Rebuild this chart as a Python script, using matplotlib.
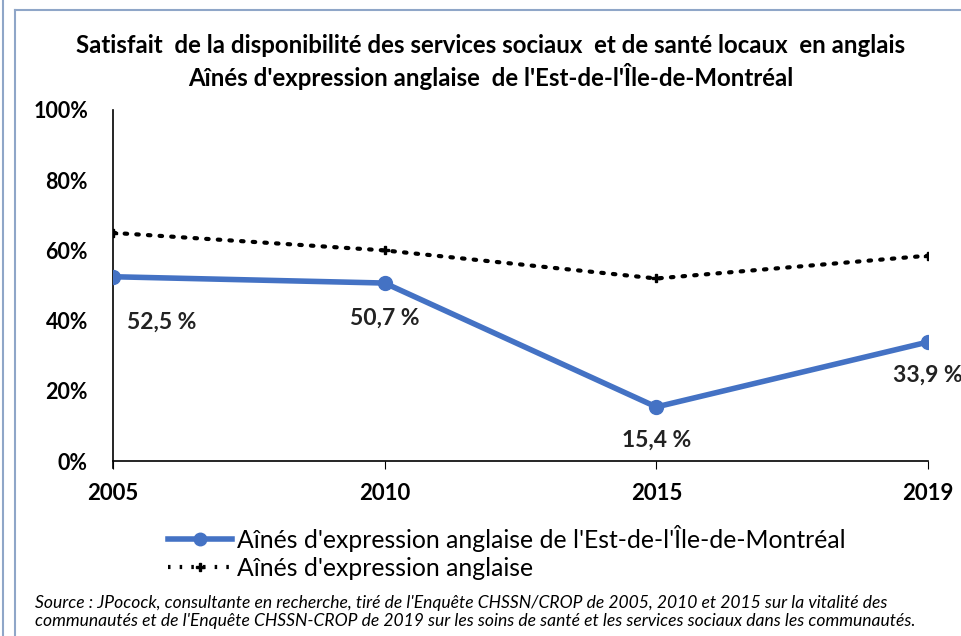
import numpy as np
import matplotlib.pyplot as plt
from matplotlib.lines import Line2D

# data
years = ["2005", "2010", "2015", "2019"]
est_montreal = [52.5, 50.7, 15.4, 33.9]
all_seniors = [65.0, 60.0, 52.0, 58.5]
value_labels = ["52,5 %", "50,7 %", "15,4 %", "33,9 %"]
y_ticks = [0, 20, 40, 60, 80, 100]

title = ("Satisfait  de la disponibilité des services sociaux  et de santé locaux  en anglais\n"
         "Aînés d'expression anglaise  de l'Est-de-l'Île-de-Montréal")
source = ("Source : JPocock, consultante en recherche, tiré de l'Enquête CHSSN/CROP de 2005, 2010 et 2015 sur la vitalité des\n"
          "communautés et de l'Enquête CHSSN-CROP de 2019 sur les soins de santé et les services sociaux dans les communautés.")

plt.rcParams['font.family'] = ['Lato', 'DejaVu Sans']
blue = "#4472C4"

fig = plt.figure(figsize=(9.62, 6.36), dpi=100)
ax = fig.add_axes([113/962, 1 - 461/636, (928 - 113)/962, (461 - 110)/636])

x = np.arange(len(years))
ax.plot(x, est_montreal, color=blue, linewidth=4, marker="o", markersize=10,
        solid_capstyle="round", zorder=3)
ax.plot(x, all_seniors, color="black", linewidth=3, linestyle=(0, (0.6, 2.2)),
        dash_capstyle="round", marker="P", markersize=6, zorder=3)

offsets = [(35, -33), (0, -25), (0, -24), (0, -24)]
for xi, v, lab, off in zip(x, est_montreal, value_labels, offsets):
    ax.annotate(lab, (xi, v), xytext=off, textcoords="offset points",
                ha="center", va="center", fontsize=16.5, fontweight="bold",
                color="#222222", annotation_clip=False)

ax.set_xlim(0, 3)
ax.set_ylim(0, 100)
ax.set_yticks(y_ticks)
ax.set_yticklabels([f"{t}%" for t in y_ticks], fontsize=15.5, fontweight="bold")
ax.set_xticks(x)
ax.set_xticklabels(years, fontsize=16, fontweight="bold")
ax.tick_params(axis="y", length=0, pad=18)
ax.tick_params(axis="x", length=6, direction="out", pad=10)
for s in ["top", "right"]:
    ax.spines[s].set_visible(False)
ax.spines["left"].set_linewidth(1.2)
ax.spines["bottom"].set_linewidth(1.2)
ax.spines["left"].set_bounds(-2, 100)

fig.suptitle(title, x=491/962, y=1 - 34/636, fontsize=17.3, fontweight="bold",
             va="top", linespacing=1.25)

handles = [Line2D([], [], color=blue, linewidth=4, marker="o", markersize=9),
           Line2D([], [], color="black", linewidth=3, linestyle=(0, (0.6, 2.2)),
                  marker="P", markersize=6)]
fig.legend(handles, ["Aînés d'expression anglaise de l'Est-de-l'Île-de-Montréal",
                     "Aînés d'expression anglaise"],
           loc="upper left", bbox_to_anchor=(158/962, 1 - 515/636), frameon=False,
           fontsize=17.8, handlelength=2.6, handletextpad=0.2, labelspacing=0.2,
           borderaxespad=0)

fig.text(35/962, 1 - 612/636, source, fontsize=12.6, style="italic", va="center",
         linespacing=1.15)

# frame lines of the surrounding box
frame = "#8FA6C8"
fig.add_artist(Line2D([3/962, 3/962], [0, 1], color=frame, linewidth=1.5))
fig.add_artist(Line2D([15/962, 15/962], [0, 1 - 10/636], color=frame, linewidth=1.5))
fig.add_artist(Line2D([15/962, 1], [1 - 10/636, 1 - 10/636], color=frame, linewidth=1.5))

plt.savefig("out.png", dpi=100)
plt.close()
